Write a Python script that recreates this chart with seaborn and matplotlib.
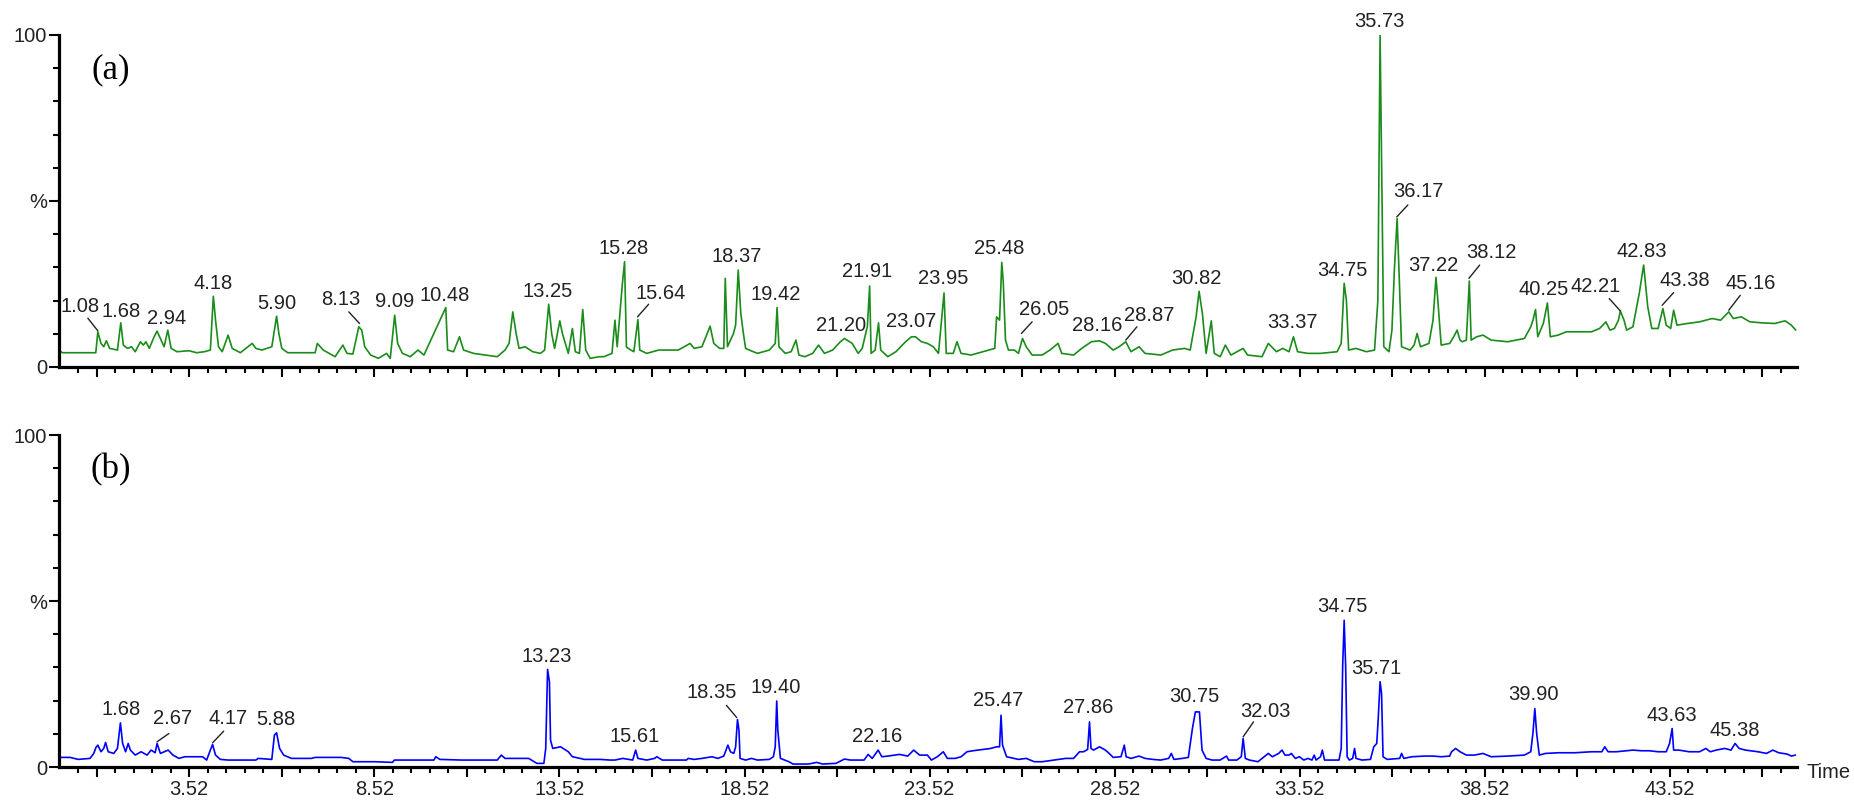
import numpy as np
import pandas as pd
import matplotlib
matplotlib.use("Agg")
import matplotlib.pyplot as plt
from matplotlib import font_manager as fm
from matplotlib.ticker import FixedLocator, FixedFormatter, NullFormatter
import seaborn as sns

# ---------------- data ----------------
# chromatogram (a): retention time (min), relative intensity (%)
time_a = [0.00, 0.09, 0.995, 1.05, 1.135, 1.21, 1.28, 1.37, 1.58, 1.67, 1.74, 1.85, 1.96, 2.06, 2.20, 2.28,
          2.35, 2.44, 2.57, 2.65, 2.76, 2.84, 2.94, 3.03, 3.19, 3.51, 3.72, 3.93, 4.09, 4.17, 4.23, 4.31,
          4.41, 4.57, 4.68, 4.90, 5.22, 5.32, 5.48, 5.75, 5.88, 5.94, 6.02, 6.18, 6.92, 6.98, 7.14, 7.46,
          7.67, 7.78, 7.94, 8.10, 8.18, 8.26, 8.42, 8.63, 8.85, 8.95, 9.07, 9.15, 9.28, 9.49, 9.70, 9.86,
          10.45, 10.50, 10.66, 10.82, 10.93, 11.20, 11.52, 11.84, 12.05, 12.16, 12.26, 12.35, 12.43, 12.59,
          12.80, 13.01, 13.12, 13.23, 13.31, 13.39, 13.53, 13.60, 13.76, 13.87, 13.95, 14.06, 14.15, 14.23,
          14.35, 14.59, 14.72, 14.94, 15.02, 15.08, 15.17, 15.22, 15.28, 15.33, 15.45, 15.53, 15.64, 15.69,
          15.88, 16.20, 16.52, 16.73, 17.05, 17.16, 17.37, 17.59, 17.69, 17.85, 17.96, 18.00, 18.06, 18.22,
          18.28, 18.35, 18.42, 18.49, 18.55, 18.65, 18.87, 19.19, 19.35, 19.40, 19.45, 19.62, 19.78, 19.91,
          19.99, 20.15, 20.36, 20.52, 20.68, 20.90, 21.11, 21.22, 21.43, 21.59, 21.70, 21.84, 21.90, 21.94,
          22.05, 22.14, 22.20, 22.39, 22.61, 22.87, 23.03, 23.14, 23.30, 23.46, 23.62, 23.76, 23.91, 23.97,
          24.16, 24.26, 24.37, 24.64, 24.96, 25.28, 25.33, 25.41, 25.47, 25.51, 25.57, 25.65, 25.81, 25.92,
          26.03, 26.13, 26.29, 26.56, 26.77, 26.99, 27.09, 27.41, 27.63, 27.89, 28.11, 28.27, 28.48, 28.64,
          28.82, 28.96, 29.18, 29.34, 29.77, 30.08, 30.41, 30.56, 30.72, 30.80, 30.89, 30.99, 31.13, 31.21,
          31.37, 31.51, 31.66, 31.99, 32.11, 32.50, 32.67, 32.89, 33.06, 33.23, 33.35, 33.46, 33.74, 34.08,
          34.53, 34.64, 34.72, 34.78, 34.84, 35.04, 35.32, 35.54, 35.63, 35.69, 35.75, 35.79, 35.93, 36.01,
          36.08, 36.15, 36.20, 36.27, 36.50, 36.61, 36.69, 36.78, 37.01, 37.12, 37.20, 37.25, 37.34, 37.57,
          37.68, 37.77, 37.85, 37.91, 38.02, 38.10, 38.15, 38.30, 38.47, 38.69, 39.14, 39.59, 39.76, 39.82,
          39.89, 39.95, 40.10, 40.21, 40.29, 40.50, 40.72, 40.95, 41.40, 41.62, 41.79, 41.90, 42.02, 42.13,
          42.18, 42.28, 42.35, 42.52, 42.69, 42.81, 42.92, 43.03, 43.20, 43.33, 43.42, 43.54, 43.62, 43.71,
          43.99, 44.32, 44.66, 44.89, 45.11, 45.23, 45.45, 45.68, 46.01, 46.35, 46.63, 46.80, 46.92]
intensity_a = [5.1, 4.3, 4.3, 10.6, 7.1, 6.1, 7.9, 5.6, 5.1, 13.3, 6.6, 5.6, 6.1, 4.6, 7.6, 6.6,
               7.6, 5.6, 9.1, 10.8, 8.1, 6.1, 11.1, 5.6, 4.6, 4.9, 4.3, 4.6, 5.1, 21.3, 14.1, 6.1,
               4.6, 9.6, 5.6, 4.3, 7.1, 5.6, 5.1, 6.1, 15.3, 10.1, 5.6, 4.3, 4.3, 7.1, 5.1, 3.1,
               6.6, 4.1, 3.9, 12.1, 11.1, 6.1, 3.6, 2.6, 4.1, 2.6, 15.6, 7.1, 4.1, 3.1, 5.1, 3.6,
               17.9, 5.1, 4.6, 9.1, 5.1, 4.1, 3.6, 3.1, 5.1, 7.1, 16.6, 10.1, 5.6, 6.1,
               4.6, 4.1, 5.1, 18.9, 10.1, 5.6, 13.9, 10.1, 4.1, 11.6, 4.6, 4.1, 17.3, 5.1,
               2.6, 3.1, 3.1, 4.1, 14.1, 6.1, 18.0, 25.0, 31.7, 6.0, 5.1, 4.6, 14.3, 5.1,
               4.1, 5.1, 5.1, 5.1, 7.1, 5.6, 6.1, 12.3, 7.1, 5.6, 5.6, 26.7, 6.1, 10.0,
               12.6, 29.2, 16.1, 10.1, 5.6, 5.1, 4.1, 5.1, 7.1, 17.9, 6.1, 4.1, 4.6, 8.1,
               3.6, 3.1, 4.1, 6.6, 4.1, 5.1, 7.6, 8.6, 7.1, 4.1, 5.6, 12.3, 24.4, 4.1,
               5.1, 13.3, 5.1, 3.1, 4.6, 7.6, 9.1, 9.1, 7.6, 7.1, 6.1, 4.1, 22.3, 4.1,
               4.1, 7.6, 4.1, 3.6, 4.6, 5.6, 15.1, 14.1, 31.5, 25.7, 8.1, 5.1, 5.1, 4.1,
               8.6, 6.1, 3.6, 3.6, 5.1, 7.1, 4.1, 3.6, 5.6, 7.6, 7.9, 7.1, 5.1, 6.1,
               7.6, 4.6, 6.1, 4.1, 3.6, 5.1, 5.6, 5.1, 15.1, 22.8, 16.1, 4.1, 13.9, 4.1,
               3.1, 6.6, 3.6, 5.6, 3.6, 3.1, 7.1, 4.6, 5.6, 4.6, 9.1, 4.6, 4.1, 4.1,
               4.6, 7.1, 25.2, 20.1, 5.1, 5.6, 4.6, 5.1, 20.1, 100.0, 42.2, 6.1, 4.6, 11.1,
               30.2, 44.7, 29.2, 6.1, 5.1, 6.6, 10.1, 6.1, 7.1, 14.1, 27.0, 20.1, 6.6, 7.1,
               9.1, 11.1, 8.1, 7.6, 8.1, 25.9, 8.1, 9.1, 9.6, 8.1, 7.6, 8.6, 12.1, 14.1,
               17.3, 9.1, 13.1, 19.3, 9.1, 9.6, 10.6, 10.6, 10.6, 11.6, 13.6, 11.1, 11.6, 14.1,
               16.9, 14.1, 11.1, 12.1, 22.1, 30.7, 18.2, 11.6, 11.6, 17.6, 12.6, 11.6, 17.1, 12.6,
               13.1, 13.6, 14.6, 14.1, 16.6, 14.6, 15.1, 13.6, 13.3, 13.1, 13.9, 12.6, 11.1]

# chromatogram (b)
time_b = [0.00, 0.30, 0.52, 0.84, 0.94, 1.00, 1.05, 1.135, 1.21, 1.26, 1.33, 1.48, 1.58, 1.66, 1.72, 1.80,
          1.87, 1.93, 2.06, 2.22, 2.38, 2.49, 2.60, 2.65, 2.74, 2.95, 3.08, 3.24, 3.40, 3.88, 3.99, 4.09,
          4.15, 4.23, 4.36, 4.57, 5.32, 5.38, 5.75, 5.82, 5.88, 5.96, 6.07, 6.28, 6.82, 6.92, 7.62, 7.83,
          7.94, 8.53, 9.01, 9.06, 10.13, 10.18, 10.29, 10.88, 11.84, 11.95, 12.05, 12.69, 12.91, 13.10,
          13.15, 13.20, 13.25, 13.28, 13.34, 13.55, 13.76, 13.87, 14.08, 14.19, 14.62, 14.88, 15.02, 15.23,
          15.50, 15.58, 15.64, 15.88, 16.09, 16.15, 16.30, 16.95, 17.00, 17.16, 17.37, 17.64, 17.80, 17.96,
          18.07, 18.14, 18.23, 18.28, 18.33, 18.37, 18.40, 18.55, 18.71, 18.87, 19.19, 19.30, 19.35, 19.39,
          19.42, 19.49, 19.72, 19.83, 20.25, 20.47, 20.63, 20.99, 21.22, 21.38, 21.75, 21.86, 21.97, 22.13,
          22.23, 22.39, 22.71, 22.93, 23.09, 23.25, 23.46, 23.57, 23.73, 23.89, 24.00, 24.21, 24.37, 24.53,
          24.69, 24.96, 25.17, 25.33, 25.41, 25.45, 25.49, 25.60, 25.92, 26.13, 26.35, 26.56, 26.88, 27.20,
          27.41, 27.57, 27.68, 27.79, 27.84, 27.88, 27.95, 28.11, 28.27, 28.37, 28.48, 28.69, 28.78, 28.83,
          28.96, 29.18, 29.34, 29.55, 29.76, 29.98, 30.05, 30.12, 30.35, 30.51, 30.62, 30.70, 30.81, 30.88,
          30.99, 31.15, 31.37, 31.54, 31.60, 31.82, 31.94, 31.99, 32.05, 32.16, 32.39, 32.56, 32.67, 32.78,
          32.95, 33.04, 33.12, 33.23, 33.29, 33.40, 33.51, 33.63, 33.74, 33.85, 33.91, 33.96, 34.08, 34.13,
          34.19, 34.58, 34.64, 34.68, 34.72, 34.76, 34.80, 34.86, 34.95, 35.00, 35.04, 35.20, 35.43, 35.52,
          35.60, 35.64, 35.69, 35.73, 35.77, 35.88, 36.22, 36.27, 36.33, 36.55, 36.89, 37.12, 37.34, 37.57,
          37.62, 37.73, 37.85, 38.02, 38.24, 38.47, 38.69, 39.14, 39.59, 39.76, 39.82, 39.87, 39.92, 39.99,
          40.16, 40.50, 40.95, 41.40, 41.68, 41.76, 41.85, 42.07, 42.52, 42.75, 42.97, 43.20, 43.42, 43.51,
          43.58, 43.62, 43.76, 44.04, 44.32, 44.49, 44.61, 44.77, 45.00, 45.17, 45.28, 45.39, 45.56, 45.90,
          46.13, 46.30, 46.46, 46.69, 46.80, 46.91]
intensity_b = [2.9, 2.9, 2.3, 2.6, 4.1, 5.9, 6.6, 4.6, 5.6, 7.4, 4.6, 4.1, 5.6, 13.3, 7.1, 4.6,
               7.1, 5.1, 3.6, 4.6, 3.6, 5.1, 4.3, 7.1, 4.1, 5.1, 3.6, 2.6, 3.1, 3.1, 2.1, 5.1,
               6.8, 3.6, 2.3, 2.1, 2.1, 2.6, 2.3, 9.6, 10.3, 5.6, 3.6, 2.6, 2.6, 2.9, 2.9, 2.6,
               1.6, 1.6, 1.4, 2.1, 2.1, 3.1, 2.3, 2.1, 2.1, 3.6, 2.6, 2.6, 1.1, 1.1,
               5.6, 29.4, 25.7, 8.1, 5.6, 6.1, 4.6, 3.1, 2.6, 2.3, 2.3, 2.1, 2.1, 2.6,
               2.1, 5.1, 2.6, 2.1, 2.6, 3.1, 2.1, 2.1, 2.6, 2.3, 2.6, 3.1, 2.6, 3.3,
               6.6, 4.6, 4.1, 6.1, 14.3, 11.1, 2.6, 2.1, 2.6, 2.1, 2.3, 3.1, 6.1, 19.9,
               11.1, 2.6, 1.6, 0.9, 0.9, 1.4, 0.9, 1.1, 2.4, 2.1, 2.1, 3.8, 2.6, 5.1,
               3.1, 3.3, 3.8, 3.3, 5.1, 3.6, 3.6, 2.1, 3.1, 4.6, 2.6, 2.6, 3.1, 4.6,
               4.9, 5.3, 5.6, 6.1, 6.1, 15.6, 6.6, 3.1, 2.3, 2.6, 1.6, 1.6, 2.1, 2.6,
               2.6, 4.6, 4.6, 5.3, 13.6, 5.6, 5.1, 6.1, 5.1, 4.1, 2.9, 3.1, 6.6, 3.1,
               2.6, 3.3, 2.6, 2.3, 2.1, 2.6, 4.1, 2.3, 2.6, 2.9, 11.6, 16.6, 16.6, 5.1,
               2.6, 2.1, 2.1, 3.3, 2.1, 2.1, 3.1, 8.6, 2.6, 2.1, 1.6, 3.1, 4.1, 3.1,
               4.1, 5.1, 3.6, 3.6, 4.1, 2.6, 3.1, 2.1, 2.6, 2.1, 3.6, 2.1, 3.1, 5.1,
               2.1, 2.1, 5.6, 30.7, 44.2, 30.2, 3.1, 2.1, 2.6, 5.6, 2.6, 2.1, 2.3, 6.1,
               7.1, 14.6, 25.7, 22.1, 3.1, 2.3, 2.6, 4.1, 2.6, 3.1, 3.3, 3.3, 3.1, 3.3,
               4.6, 5.6, 4.6, 3.6, 3.6, 4.1, 3.1, 3.3, 3.6, 4.6, 10.3, 17.6, 10.1, 3.6,
               4.1, 4.3, 4.3, 4.6, 4.6, 6.1, 4.6, 4.6, 5.1, 4.9, 4.9, 4.6, 4.6, 7.1,
               11.6, 5.1, 5.1, 4.6, 4.6, 5.6, 4.6, 5.1, 5.6, 5.1, 7.1, 5.6, 5.1, 4.6,
               4.1, 5.1, 4.3, 3.9, 3.3, 3.6]

# peak labels: text, label position (time, %), leader line (time0, %0, time1, %1) or None
labels_a = ["1.08", "1.68", "2.94", "4.18", "5.90", "8.13", "9.09", "10.48", "13.25", "15.28", "15.64",
            "18.37", "19.42", "21.20", "21.91", "23.07", "23.95", "25.48", "26.05", "28.16", "28.87",
            "30.82", "33.37", "34.75", "35.73", "36.17", "37.22", "38.12", "40.25", "42.21", "42.83",
            "43.38", "45.16"]
label_pos_a = [(0.57, 18.1), (1.67, 16.6), (2.92, 14.6), (4.17, 25.0), (5.89, 19.1), (7.62, 20.4),
               (9.06, 19.6), (10.43, 21.6), (13.21, 22.6), (15.26, 35.7), (16.25, 22.1), (18.31, 33.2),
               (19.37, 21.9), (21.13, 12.6), (21.84, 28.7), (23.01, 13.6), (23.89, 26.7), (25.41, 35.7),
               (26.61, 17.4), (28.04, 12.6), (29.44, 15.6), (30.72, 26.7), (33.31, 13.3), (34.68, 29.2),
               (35.68, 104.0), (36.72, 52.8), (37.14, 30.7), (38.69, 34.5), (40.12, 23.4), (41.51, 24.2),
               (42.77, 34.7), (43.93, 26.2), (45.70, 25.0)]
leaders_a = [(0.78, 14.7, 1.05, 10.9), None, None, None, None, (7.83, 16.6, 8.12, 13.1), None, None, None,
             None, (15.93, 18.9, 15.63, 15.1), None, None, None, None, None, None, None,
             (26.29, 13.6, 26.0, 10.1), None, (29.12, 12.1, 28.82, 8.1), None, None, None, None,
             (36.44, 48.8, 36.14, 45.2), None, (38.38, 30.7, 38.09, 26.7), None,
             (41.88, 20.6, 42.18, 16.9), None, (43.62, 22.4, 43.31, 18.6), (45.42, 21.6, 45.11, 17.1)]

labels_b = ["1.68", "2.67", "4.17", "5.88", "13.23", "15.61", "18.35", "19.40", "22.16", "25.47", "27.86",
            "30.75", "32.03", "34.75", "35.71", "39.90", "43.63", "45.38"]
label_pos_b = [(1.68, 17.3), (3.08, 14.6), (4.57, 14.6), (5.86, 14.3), (13.17, 33.2), (15.55, 9.3),
               (17.64, 22.3), (19.37, 24.0), (22.11, 9.1), (25.38, 19.9), (27.81, 17.9), (30.67, 21.1),
               (32.59, 16.6), (34.68, 48.5), (35.60, 29.7), (39.82, 21.9), (43.57, 15.6), (45.28, 11.1)]
leaders_b = [None, (2.97, 10.1, 2.65, 7.6), (4.45, 10.8, 4.15, 7.3), None, None, None,
             (18.03, 18.6, 18.31, 14.9), None, None, None, None, None, (32.27, 13.6, 31.99, 9.1),
             None, None, None, None, None]

panel_tags = ["(a)", "(b)"]
y_tick_values = [0, 50, 100]
y_tick_labels = ["0", "%", "100"]
x_label_ticks = [3.52, 8.52, 13.52, 18.52, 23.52, 28.52, 33.52, 38.52, 43.52]
x_label_text = ["3.52", "8.52", "13.52", "18.52", "23.52", "28.52", "33.52", "38.52", "43.52"]

# ---------------- style ----------------
sns.set_theme(style="ticks")
names = {f.name for f in fm.fontManager.ttflist}
label_font = "Liberation Sans Narrow" if "Liberation Sans Narrow" in names else "Liberation Sans"
plt.rcParams["font.family"] = [label_font, "DejaVu Sans"]

fig = plt.figure(figsize=(18.54, 8.08), dpi=100)
fig.patch.set_facecolor("white")
ax_a = fig.add_axes([0.0318, 0.5458, 0.9374, 0.4109])
ax_b = fig.add_axes([0.0318, 0.0507, 0.9374, 0.4109])

df_a = pd.DataFrame({"time": time_a, "intensity": intensity_a})
df_b = pd.DataFrame({"time": time_b, "intensity": intensity_b})

sns.lineplot(data=df_a, x="time", y="intensity", ax=ax_a, color="#1a8c1a", linewidth=1.2,
             estimator=None, sort=False)
sns.lineplot(data=df_b, x="time", y="intensity", ax=ax_b, color="#0000ff", linewidth=1.2,
             estimator=None, sort=False)

major_x = list(np.arange(1.02, 46.9, 2.5))
minor_x = list(np.arange(0.52, 46.9, 0.5))
txt_size = 14.5

for ax, labels, pos, leaders, tag, show_x in [
        (ax_a, labels_a, label_pos_a, leaders_a, panel_tags[0], False),
        (ax_b, labels_b, label_pos_b, leaders_b, panel_tags[1], True)]:
    ax.set_xlim(0, 46.95)
    ax.set_ylim(0, 100)
    ax.set_facecolor("white")
    for s in ["top", "right"]:
        ax.spines[s].set_visible(False)
    for s in ["left", "bottom"]:
        ax.spines[s].set_linewidth(2.3)
        ax.spines[s].set_color("black")
        ax.spines[s].set_capstyle("projecting")
    ax.set_xlabel("")
    ax.set_ylabel("")
    ax.yaxis.set_major_locator(FixedLocator(y_tick_values))
    ax.yaxis.set_major_formatter(FixedFormatter(y_tick_labels))
    ax.yaxis.set_minor_locator(FixedLocator([10, 20, 30, 40, 60, 70, 80, 90]))
    ax.xaxis.set_major_locator(FixedLocator(major_x))
    if show_x:
        fmt = [x_label_text[x_label_ticks.index(round(v, 2))] if round(v, 2) in x_label_ticks else ""
               for v in major_x]
        ax.xaxis.set_major_formatter(FixedFormatter(fmt))
    else:
        ax.xaxis.set_major_formatter(NullFormatter())
    ax.xaxis.set_minor_locator(FixedLocator(minor_x))
    ax.tick_params(axis="both", which="major", length=7.5, width=1.5, color="black",
                   labelsize=txt_size, labelcolor="#222222", pad=2, direction="out")
    ax.tick_params(axis="both", which="minor", length=4, width=1.5, color="black", direction="out")
    ax.tick_params(axis="y", which="major", pad=1)

    for text, (tx, ty), ld in zip(labels, pos, leaders):
        ax.text(tx, ty, text, ha="center", va="center", fontsize=txt_size, color="#222222",
                clip_on=False)
        if ld is not None:
            ax.plot([ld[0], ld[2]], [ld[1], ld[3]], color="#222222", linewidth=1.0)

    ax.text(1.40, 89.5, tag, ha="center", va="center", fontsize=25,
            family=["Liberation Serif", "DejaVu Serif"], color="black")

fig.text(1851 / 1854, 1 - 772 / 808, "Time", ha="right", va="center", fontsize=txt_size,
         color="#222222")

fig.savefig("out.png", dpi=100, facecolor="white")
